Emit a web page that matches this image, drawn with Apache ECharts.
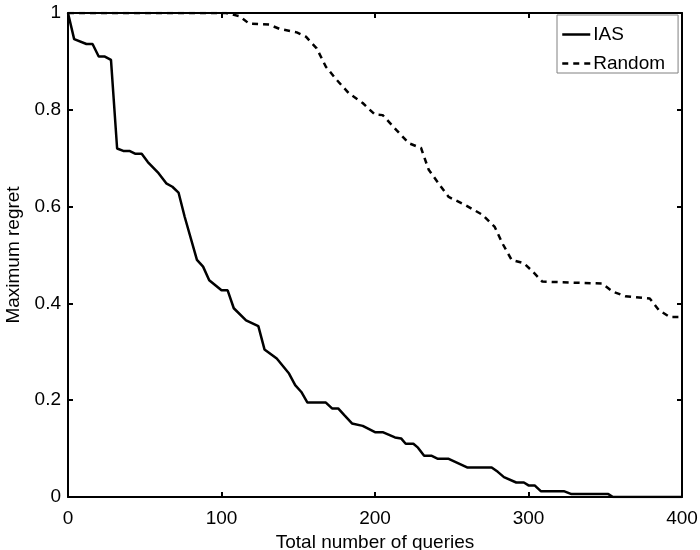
<!DOCTYPE html>
<html>
<head>
<meta charset="utf-8">
<script src="https://cdn.jsdelivr.net/npm/echarts@6/dist/echarts.min.js"></script>
<style>
html,body{margin:0;padding:0;background:#fff;width:100%;height:100%;overflow:hidden;}
#chart{width:700px;height:550px;position:absolute;left:0;top:0;}
</style>
</head>
<body>
<div id="chart"></div>
<script>
var iasX = [0, 4, 12, 16, 20, 24, 28, 32, 36, 40, 44, 48, 52, 59, 64, 68, 72, 76, 84, 88, 92, 100, 104, 108, 116, 124, 128, 136, 144, 148, 152, 156, 168, 172, 176, 180, 185, 192, 200, 205, 213, 217, 220, 225, 228, 232, 237, 241, 248, 260, 276, 280, 284, 292, 297, 300, 304, 308, 323, 328, 352, 355, 400];
var iasY = [1, 0.946, 0.936, 0.936, 0.91, 0.91, 0.903, 0.72, 0.715, 0.715, 0.709, 0.709, 0.692, 0.669, 0.648, 0.641, 0.629, 0.579, 0.49, 0.476, 0.448, 0.427, 0.427, 0.39, 0.365, 0.353, 0.305, 0.286, 0.255, 0.231, 0.217, 0.195, 0.195, 0.183, 0.183, 0.169, 0.152, 0.147, 0.134, 0.134, 0.123, 0.121, 0.11, 0.11, 0.102, 0.085, 0.085, 0.079, 0.079, 0.061, 0.061, 0.052, 0.041, 0.03, 0.03, 0.024, 0.024, 0.012, 0.012, 0.006, 0.006, 0, 0];
var randomX = [0, 103, 112, 118, 131, 138, 149, 155, 162, 168, 175, 183, 192, 200, 205, 214, 222, 230, 235, 243, 248, 259, 270, 278, 283, 289, 297, 303, 309, 348, 355, 363, 379, 385, 392, 400];
var randomY = [1, 1, 0.993, 0.978, 0.976, 0.967, 0.96, 0.951, 0.927, 0.889, 0.862, 0.834, 0.814, 0.79, 0.789, 0.758, 0.731, 0.721, 0.676, 0.641, 0.62, 0.603, 0.583, 0.558, 0.524, 0.49, 0.483, 0.465, 0.445, 0.441, 0.424, 0.415, 0.41, 0.386, 0.372, 0.372];
var seriesNames = ['IAS', 'Random'];
var xTitle = 'Total number of queries';
var yTitle = 'Maximum regret';

function zip(xs, ys) { return xs.map(function (x, i) { return [x, ys[i]]; }); }

var FONT = '"Liberation Sans", Arial, Helvetica, sans-serif';
var FS = 19;
var axisLine = { show: true, onZero: false, lineStyle: { color: '#000', width: 2 } };
var tick = { show: true, inside: true, length: 5, lineStyle: { color: '#000', width: 2 } };

var chart = echarts.init(document.getElementById('chart'), null, { renderer: 'canvas', width: 700, height: 550 });
chart.setOption({
  animation: false,
  backgroundColor: '#fff',
  textStyle: { fontFamily: FONT },
  grid: { left: 68, width: 614, top: 13, height: 484, containLabel: false, outerBoundsMode: 'none' },
  legend: {
    orient: 'vertical',
    left: 557,
    top: 15,
    data: seriesNames,
    backgroundColor: '#fff',
    borderColor: '#808080',
    borderWidth: 1,
    borderRadius: 0,
    padding: [10, 13, 0, 4],
    itemWidth: 28,
    itemHeight: 14,
    itemGap: 10,
    itemStyle: { opacity: 0 },
    lineStyle: { width: 2.5 },
    textStyle: { fontSize: FS, lineHeight: 17, color: '#000', fontFamily: FONT, padding: [0, 0, 0, -2] }
  },
  xAxis: [{
    type: 'value', min: 0, max: 400, interval: 100, position: 'bottom',
    name: xTitle, nameLocation: 'middle', nameGap: 30,
    nameTextStyle: { fontSize: FS, color: '#000', fontFamily: FONT },
    axisLine: axisLine, axisTick: tick,
    axisLabel: { fontSize: FS, color: '#000', margin: 12, fontFamily: FONT },
    splitLine: { show: false }
  }, {
    type: 'value', min: 0, max: 400, interval: 100, position: 'top',
    axisLine: axisLine, axisTick: tick, axisLabel: { show: false }, splitLine: { show: false }
  }],
  yAxis: [{
    type: 'value', min: 0, max: 1, interval: 0.2, position: 'left',
    name: yTitle, nameLocation: 'middle', nameGap: 35,
    nameTextStyle: { fontSize: FS, color: '#000', fontFamily: FONT },
    axisLine: axisLine, axisTick: tick,
    axisLabel: { fontSize: FS, color: '#000', margin: 7, fontFamily: FONT, padding: [6, 0, 0, 0],
      formatter: function (v) { return String(Math.round(v * 10) / 10); } },
    splitLine: { show: false }
  }, {
    type: 'value', min: 0, max: 1, interval: 0.2, position: 'right',
    axisLine: axisLine, axisTick: tick, axisLabel: { show: false }, splitLine: { show: false }
  }],
  series: [{
    name: seriesNames[0], type: 'line', xAxisIndex: 0, yAxisIndex: 0,
    data: zip(iasX, iasY), showSymbol: false, symbol: 'none',
    lineStyle: { color: '#000', width: 2.5, type: 'solid' },
    itemStyle: { color: '#000' }, z: 3
  }, {
    name: seriesNames[1], type: 'line', xAxisIndex: 0, yAxisIndex: 0,
    data: zip(randomX, randomY), showSymbol: false, symbol: 'none',
    lineStyle: { color: '#000', width: 2.5, type: [6, 5] },
    itemStyle: { color: '#000' }, z: 3
  }]
});
</script>
</body>
</html>
